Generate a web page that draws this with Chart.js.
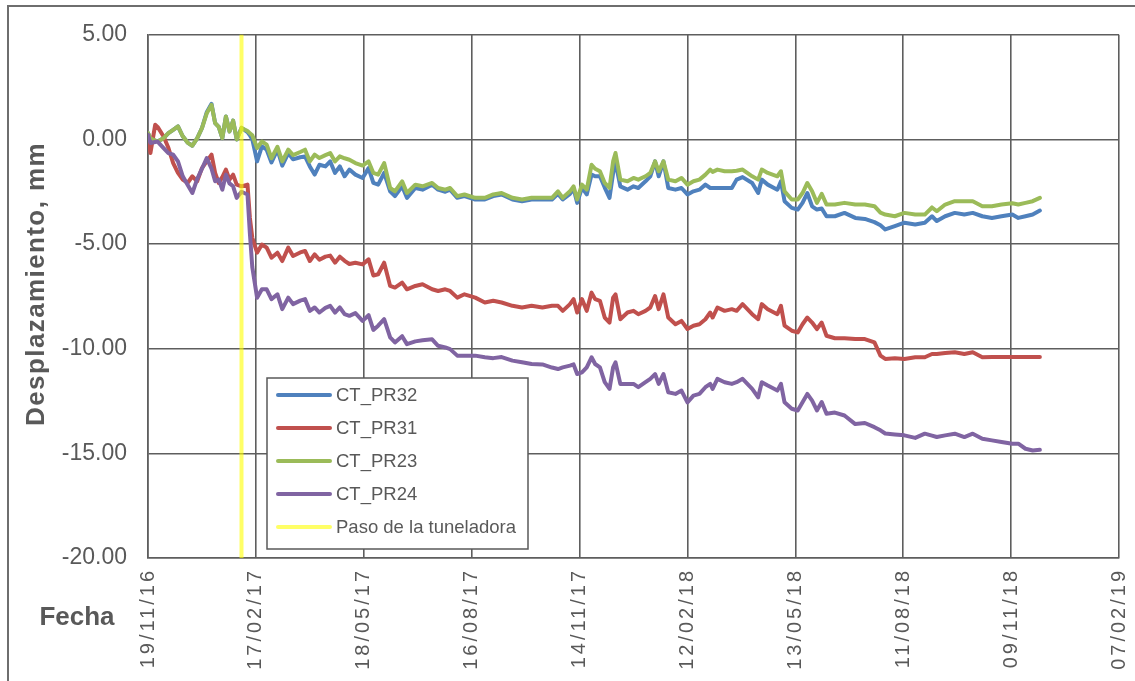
<!DOCTYPE html>
<html>
<head>
<meta charset="utf-8">
<script src="https://cdn.jsdelivr.net/npm/chart.js@4"></script>
<style>
  html, body { margin: 0; padding: 0; background: #fff; overflow: hidden; }
  #marco { position: absolute; left: 7px; top: 5px; width: 1200px; height: 760px; border: 2px solid #6e6e6e; }
  #grafico { position: absolute; left: 0; top: 0; }
</style>
</head>
<body>
<div id="marco"></div>
<canvas id="grafico" width="1135" height="681"></canvas>
<script>
// days since 19/11/16
const fechaInicio = Date.UTC(2016, 10, 19);
const dias = [
  0, 2, 6, 8, 13, 17, 21, 25, 29, 33, 37, 41, 45, 49, 53, 56, 59, 62, 65, 68, 71, 74, 78, 83, 85, 87, 91, 95, 99, 103, 108, 112, 117, 121,
  127, 131, 135, 139, 143, 148, 152, 156, 160, 164, 168, 173, 179, 184, 188, 192, 197, 202, 206, 212, 216, 223, 229, 237, 242,
  248, 252, 258, 264, 273, 281, 288, 295, 304, 312, 320, 329, 337, 342, 346, 352, 355, 358, 362, 366, 370,
  373, 377, 381, 385, 388, 390, 394, 400, 405, 409, 415, 419, 423, 426, 430, 434, 440, 445, 450, 455, 460, 465, 469, 471, 475, 481, 487, 491, 496,
  504, 509, 512, 517, 525, 528, 531, 537, 542, 546, 550, 554, 558, 562, 566, 573, 581, 590, 598, 606, 611, 615, 623,
  631, 640, 648, 654, 658, 665, 673, 681, 688, 696, 704, 712, 721, 726, 732, 738, 744
];

const ctPR32 = [
  0.30, 0.05, -0.05, -0.10, 0.06, 0.30, 0.46, 0.62, 0.15, -0.15, -0.30, 0.05, 0.54, 1.30, 1.70, 0.78, 0.60, 0.06, 1.10, 0.38, 0.90, 0.00, 0.55, 0.35, 0.20, 0.00, -1.05, -0.33, -0.49, -1.10, -0.49, -1.25, -0.65, -0.95,
  -0.85, -0.81, -1.29, -1.68, -1.21, -1.29, -1.05, -1.60, -1.29, -1.76, -1.44, -1.68, -1.84, -1.37, -2.08, -2.16, -1.60, -2.48, -2.71, -2.24, -2.79, -2.32, -2.40, -2.16, -2.40,
  -2.50, -2.40, -2.79, -2.71, -2.87, -2.87, -2.71, -2.63, -2.87, -2.95, -2.87, -2.87, -2.87, -2.60, -2.87, -2.60, -2.35, -3.03, -2.30, -2.63, -1.68,
  -1.76, -1.76, -2.30, -2.79, -1.60, -1.10, -2.24, -2.40, -2.24, -2.32, -2.00, -1.76, -1.05, -1.76, -1.05, -2.32, -2.40, -2.32, -2.63, -2.48, -2.40, -2.16, -2.32, -2.32, -2.32, -2.32, -2.32, -1.92, -1.80,
  -2.08, -2.56, -1.92, -2.16, -2.40, -2.00, -2.95, -3.27, -3.35, -3.03, -2.56, -3.20, -3.35, -3.30, -3.67, -3.67, -3.51, -3.75, -3.80, -3.95, -4.10, -4.30, -4.14,
  -3.98, -4.06, -3.98, -3.67, -3.90, -3.67, -3.51, -3.59, -3.51, -3.67, -3.75, -3.67, -3.59, -3.75, -3.67, -3.59, -3.40
];

const ctPR31 = [
  0.06, -0.65, 0.70, 0.60, 0.14, -0.40, -1.13, -1.60, -1.92, -2.08, -1.76, -2.00, -1.37, -1.05, -0.73, -1.60, -2.08, -1.80, -1.44, -1.92, -1.68, -2.16, -2.24, -2.16, -3.75, -4.70, -5.41, -5.02, -5.17, -5.65, -5.41, -5.81, -5.17, -5.57,
  -5.40, -5.33, -5.81, -5.49, -5.75, -5.60, -5.55, -5.89, -5.60, -5.80, -5.95, -5.89, -5.97, -5.73, -6.50, -6.44, -5.89, -7.00, -7.08, -6.84, -7.16, -7.00, -6.92, -7.16, -7.24,
  -7.16, -7.24, -7.56, -7.40, -7.56, -7.79, -7.71, -7.79, -7.95, -8.03, -7.95, -8.03, -7.95, -7.95, -8.19, -7.87, -7.63, -8.27, -7.63, -8.19, -7.32,
  -7.63, -7.71, -8.51, -8.75, -7.56, -7.40, -8.59, -8.27, -8.19, -8.35, -8.19, -8.03, -7.48, -8.11, -7.40, -8.51, -8.83, -8.67, -9.06, -8.90, -8.83, -8.59, -8.27, -8.51, -8.03, -8.19, -8.11, -8.19, -7.87,
  -8.35, -8.59, -7.87, -8.11, -8.35, -7.95, -8.90, -9.14, -9.22, -8.83, -8.51, -8.75, -9.06, -8.75, -9.38, -9.50, -9.50, -9.54, -9.54, -9.70, -10.33, -10.49, -10.45,
  -10.49, -10.41, -10.41, -10.25, -10.25, -10.20, -10.17, -10.25, -10.17, -10.41, -10.40, -10.40, -10.40, -10.40, -10.40, -10.40, -10.40
];

const ctPR23 = [
  0.30, 0.05, -0.05, -0.10, 0.06, 0.30, 0.46, 0.62, 0.15, -0.15, -0.30, 0.05, 0.54, 1.25, 1.65, 0.78, 0.60, 0.06, 1.10, 0.38, 0.90, 0.00, 0.55, 0.40, 0.30, 0.20, -0.41, -0.10, -0.25, -0.90, -0.35, -1.05, -0.49, -0.75,
  -0.60, -0.49, -1.05, -0.73, -0.89, -0.75, -0.65, -1.05, -0.81, -0.90, -0.97, -1.13, -1.25, -1.05, -1.60, -1.68, -1.13, -2.32, -2.48, -2.00, -2.56, -2.16, -2.24, -2.08, -2.32,
  -2.40, -2.32, -2.71, -2.63, -2.79, -2.79, -2.63, -2.56, -2.79, -2.87, -2.79, -2.79, -2.79, -2.48, -2.79, -2.48, -2.24, -2.87, -2.16, -2.40, -1.21,
  -1.40, -1.52, -2.08, -2.32, -1.05, -0.65, -1.92, -2.00, -1.84, -1.92, -1.76, -1.60, -1.05, -1.52, -1.05, -1.92, -2.00, -1.84, -2.16, -2.00, -1.92, -1.68, -1.44, -1.55, -1.44, -1.52, -1.52, -1.50, -1.44,
  -1.76, -1.92, -1.44, -1.60, -1.76, -1.52, -2.48, -2.87, -2.87, -2.56, -2.08, -2.48, -3.03, -2.60, -3.11, -3.11, -3.03, -3.11, -3.11, -3.19, -3.50, -3.59, -3.67,
  -3.51, -3.59, -3.59, -3.25, -3.43, -3.11, -2.95, -2.95, -2.95, -3.19, -3.19, -3.11, -3.05, -3.11, -3.03, -2.95, -2.79
];

const ctPR24 = [
  0.22, -0.17, -0.12, -0.10, -0.41, -0.65, -0.73, -1.05, -1.76, -2.16, -2.56, -1.90, -1.40, -0.89, -1.40, -2.00, -1.92, -2.40, -1.68, -2.10, -2.24, -2.79, -2.50, -2.63, -4.50, -6.10, -7.56, -7.16, -7.16, -7.63, -7.40, -8.11, -7.56, -7.87,
  -7.70, -7.63, -8.19, -8.03, -8.27, -8.05, -7.95, -8.27, -8.03, -8.35, -8.43, -8.30, -8.67, -8.40, -9.10, -8.90, -8.59, -9.46, -9.70, -9.40, -9.78, -9.65, -9.60, -9.55, -9.86,
  -9.94, -10.02, -10.33, -10.33, -10.33, -10.41, -10.45, -10.40, -10.57, -10.65, -10.73, -10.75, -10.90, -10.97, -10.89, -10.81, -10.75, -11.21, -11.13, -10.89, -10.41,
  -10.73, -10.89, -11.60, -11.92, -10.89, -10.65, -11.68, -11.68, -11.68, -11.84, -11.60, -11.44, -11.21, -11.68, -11.21, -12.08, -12.16, -12.00, -12.56, -12.24, -12.16, -11.84, -11.68, -11.92, -11.44, -11.60, -11.68, -11.60, -11.44,
  -11.92, -12.32, -11.60, -11.76, -12.00, -11.68, -12.56, -12.87, -12.95, -12.56, -12.16, -12.48, -12.95, -12.55, -13.11, -13.05, -13.19, -13.60, -13.55, -13.75, -13.90, -14.05, -14.10,
  -14.14, -14.26, -14.06, -14.15, -14.22, -14.14, -14.06, -14.22, -14.06, -14.30, -14.38, -14.46, -14.54, -14.54, -14.78, -14.86, -14.83
];

// paso de la tuneladora (day offset) and axis limits
const pasoTuneladora = 78;
const yTicks = [5, 0, -5, -10, -15, -20];
const xMax = 810;
const xStep = 90;

const gris = '#595959';
const rejilla = '#5e5e5e';
const fuente = "'Liberation Sans', Arial, sans-serif";

function fechaTexto(d) {
  const f = new Date(fechaInicio + d * 86400000);
  const dd = String(f.getUTCDate()).padStart(2, '0');
  const mm = String(f.getUTCMonth() + 1).padStart(2, '0');
  const yy = String(f.getUTCFullYear()).slice(2);
  return dd + '/' + mm + '/' + yy;
}

const puntos = vals => dias.map((d, i) => ({ x: d, y: vals[i] }));

const series = [
  { label: 'CT_PR32', data: puntos(ctPR32), borderColor: '#4F81BD', order: 4 },
  { label: 'CT_PR31', data: puntos(ctPR31), borderColor: '#C0504D', order: 3 },
  { label: 'CT_PR23', data: puntos(ctPR23), borderColor: '#9BBB59', order: 2 },
  { label: 'CT_PR24', data: puntos(ctPR24), borderColor: '#8064A2', order: 1 },
  {
    label: 'Paso de la tuneladora',
    data: [{ x: pasoTuneladora, y: yTicks[0] }, { x: pasoTuneladora, y: yTicks[yTicks.length - 1] }],
    borderColor: 'rgba(255, 255, 0, 0.6)', order: 0
  }
];

// axis labels, titles and the legend box inside the plot
const textos = {
  id: 'textos',
  afterDraw(chart) {
    const ctx = chart.ctx;
    const area = chart.chartArea;
    const x = chart.scales.x;
    ctx.save();
    ctx.fillStyle = gris;

    ctx.font = '20px ' + fuente;
    ctx.letterSpacing = '3px';
    ctx.textAlign = 'right';
    ctx.textBaseline = 'middle';
    for (let d = 0; d <= xMax; d += xStep) {
      ctx.save();
      ctx.translate(x.getPixelForValue(d), area.bottom + 10);
      ctx.rotate(-Math.PI / 2);
      ctx.fillText(fechaTexto(d), 0, 0);
      ctx.restore();
    }

    ctx.font = 'bold 26px ' + fuente;
    ctx.textAlign = 'center';
    ctx.letterSpacing = '0px';
    ctx.fillText('Fecha', 77, 618);
    ctx.save();
    ctx.translate(37, 284);
    ctx.rotate(-Math.PI / 2);
    ctx.letterSpacing = '1.4px';
    ctx.fillText('Desplazamiento, mm', 0, 0);
    ctx.restore();
    ctx.letterSpacing = '0px';

    // legend
    const lx = 267, ly = 378, lw = 261, lh = 171;
    ctx.fillStyle = '#fff';
    ctx.fillRect(lx, ly, lw, lh);
    ctx.strokeStyle = gris;
    ctx.lineWidth = 1.5;
    ctx.strokeRect(lx, ly, lw, lh);
    ctx.font = '18.5px ' + fuente;
    ctx.textAlign = 'left';
    ctx.lineCap = 'round';
    chart.data.datasets.forEach((ds, i) => {
      const y = ly + 17 + i * 33;
      ctx.strokeStyle = ds.borderColor;
      ctx.lineWidth = 4;
      ctx.beginPath();
      ctx.moveTo(lx + 11, y);
      ctx.lineTo(lx + 63, y);
      ctx.stroke();
      ctx.fillStyle = gris;
      ctx.fillText(ds.label, lx + 69, y + 1);
    });
    ctx.restore();
  }
};

new Chart(document.getElementById('grafico'), {
  type: 'line',
  data: { datasets: series },
  options: {
    responsive: false,
    animation: false,
    devicePixelRatio: 1,
    layout: { padding: { left: 0, top: 33, right: 16, bottom: 0 } },
    elements: {
      line: { borderWidth: 4, tension: 0, borderCapStyle: 'round', borderJoinStyle: 'round' },
      point: { radius: 0, hoverRadius: 0 }
    },
    plugins: { legend: { display: false }, tooltip: { enabled: false } },
    scales: {
      x: {
        type: 'linear',
        min: 0,
        max: xMax,
        afterFit: s => { s.height = 123; },
        ticks: { display: false, stepSize: xStep },
        grid: { color: rejilla, lineWidth: 1.6, drawTicks: false },
        border: { color: rejilla, width: 1.6 }
      },
      y: {
        min: yTicks[yTicks.length - 1],
        max: yTicks[0],
        afterFit: s => { s.width = 148; },
        ticks: {
          stepSize: 5,
          padding: 21,
          color: gris,
          font: { family: fuente, size: 23 },
          callback: v => v.toFixed(2)
        },
        grid: { color: rejilla, lineWidth: 1.6, drawTicks: false },
        border: { color: rejilla, width: 1.6 }
      }
    }
  },
  plugins: [textos]
});
</script>
</body>
</html>
